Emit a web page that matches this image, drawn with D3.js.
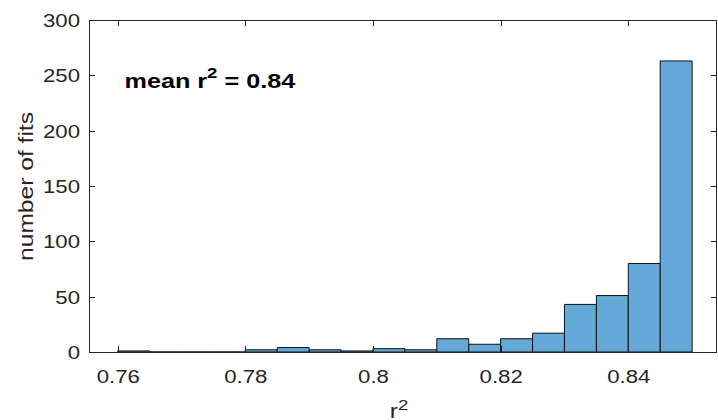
<!DOCTYPE html>
<html>
<head>
<meta charset="utf-8">
<script src="https://cdn.jsdelivr.net/npm/d3@7/dist/d3.min.js"></script>
<style>
  body { margin: 0; background: #fff; }
  text { font-family: "Liberation Sans", Arial, sans-serif; }
</style>
</head>
<body>
<svg id="chart" width="718" height="420"></svg>
<script>
  // histogram bins (left edges) and counts
  const binLefts = [0.76, 0.765, 0.77, 0.775, 0.78, 0.785, 0.79, 0.795, 0.8,
                    0.805, 0.81, 0.815, 0.82, 0.825, 0.83, 0.835, 0.84, 0.845];
  const binWidth = 0.005;
  const counts = [1, 0, 0, 0, 2, 4, 2, 1, 3, 2, 12, 7, 12, 17, 43, 51, 80, 263];
  const xTicks = [0.76, 0.78, 0.8, 0.82, 0.84];
  const yTicks = [0, 50, 100, 150, 200, 250, 300];
  const meanLabel = "0.84";

  const W = 718, H = 420;
  const margin = { top: 20, right: 1, bottom: 68, left: 89 };
  const width = W - margin.left - margin.right;
  const height = H - margin.top - margin.bottom;
  const stretch = 1.2;      // glyphs in the picture run wide
  const axisColor = "#262626";

  const svg = d3.select("#chart");
  const g = svg.append("g").attr("transform", `translate(${margin.left},${margin.top})`);

  const x = d3.scaleLinear().domain([0.7555, 0.8539]).range([0, width]);
  const y = d3.scaleLinear().domain([0, 300]).range([height, 0]);

  const bins = binLefts.map((x0, i) => ({ x0: x0, x1: x0 + binWidth, n: counts[i] }));

  // bars as paths so empty bins still show their edge line
  g.append("g")
    .selectAll("path")
    .data(bins)
    .join("path")
    .attr("d", (d) => {
      const a = x(d.x0), b = x(d.x1), y0 = y(0), y1 = y(d.n);
      return `M${a},${y0}V${y1}H${b}V${y0}Z`;
    })
    .attr("fill", "#64a9d7")
    .attr("stroke", "#111")
    .attr("stroke-width", 1);

  function styleAxis(sel) {
    sel.select(".domain").remove();
    sel.selectAll(".tick line").attr("stroke", axisColor).attr("shape-rendering", "crispEdges");
    sel.selectAll("text").attr("fill", axisColor).attr("font-size", 18.5);
  }

  const xAxis = g.append("g")
    .attr("transform", `translate(0,${height})`)
    .call(d3.axisBottom(x).tickValues(xTicks).tickSize(-6).tickFormat(d3.format("~g")))
    .call(styleAxis);
  xAxis.selectAll("text")
    .attr("y", 0)
    .attr("dy", 0)
    .attr("transform", `translate(0,30.5) scale(${stretch},1)`);

  const yAxis = g.append("g")
    .call(d3.axisLeft(y).tickValues(yTicks).tickSize(-6))
    .call(styleAxis);
  yAxis.selectAll("text")
    .attr("x", 0)
    .attr("dy", "0.35em")
    .attr("transform", `translate(-9,0) scale(${stretch},1)`);

  g.append("g")
    .call(d3.axisTop(x).tickValues(xTicks).tickSize(-6).tickFormat(""))
    .call(styleAxis);
  g.append("g")
    .attr("transform", `translate(${width},0)`)
    .call(d3.axisRight(y).tickValues(yTicks).tickSize(-6).tickFormat(""))
    .call(styleAxis);

  // box
  g.append("rect")
    .attr("x", 0.5).attr("y", 0.5)
    .attr("width", width - 1).attr("height", height)
    .attr("fill", "none")
    .attr("stroke", axisColor)
    .attr("shape-rendering", "crispEdges");

  // axis labels
  const xl = svg.append("text")
    .attr("transform", `translate(${margin.left + width / 2 - 4},417.5) scale(${stretch},1)`)
    .attr("text-anchor", "middle")
    .attr("font-size", 20.5)
    .attr("fill", axisColor);
  xl.append("tspan").text("r");
  xl.append("tspan").attr("font-size", 15.5).attr("dy", -8).text("2");

  svg.append("text")
    .attr("transform", `translate(33.3,186.5) rotate(-90) scale(${stretch},1)`)
    .attr("text-anchor", "middle")
    .attr("font-size", 20.5)
    .attr("fill", axisColor)
    .text("number of fits");

  // annotation
  const ann = svg.append("text")
    .attr("transform", `translate(124.5,87.5) scale(${stretch},1)`)
    .attr("font-size", 21)
    .attr("font-weight", "bold")
    .attr("fill", "#000");
  ann.append("tspan").text("mean r");
  ann.append("tspan").attr("font-size", 15.5).attr("dy", -9.5).text("2");
  ann.append("tspan").attr("dy", 9.5).text(" = " + meanLabel);
</script>
</body>
</html>
